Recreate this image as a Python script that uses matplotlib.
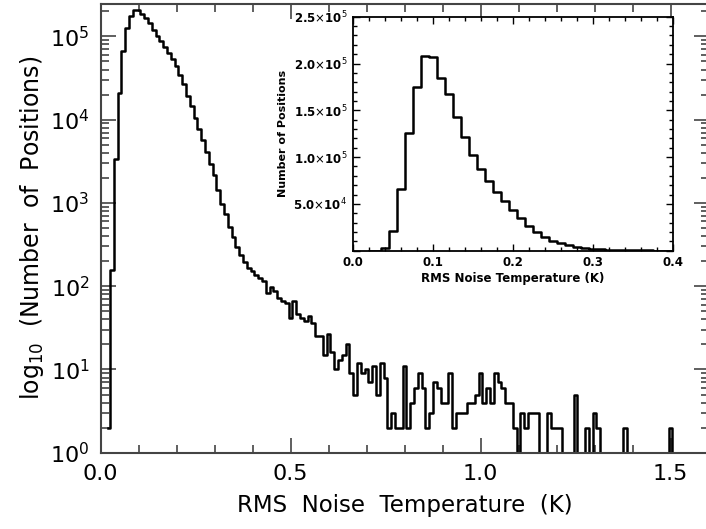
import numpy as np
import matplotlib.pyplot as plt
from matplotlib.ticker import MultipleLocator, LogLocator, NullFormatter, FuncFormatter

# histogram of RMS noise, 0.01 K bins, first bin centred on 0.02 K
bin_width = 0.01
first_bin = 0.02
counts = [
    2, 155, 3400, 21000, 66000, 126000, 175000, 208000, 207000, 184000,
    167000, 143000, 121000, 102000, 87000, 74500, 63000, 53000, 43600, 34400,
    26600, 19500, 14500, 10600, 7800, 5700, 4100, 2900, 2150, 1420,
    980, 745, 515, 390, 295, 235, 195, 166, 151, 138,
    126, 115, 83, 98, 87, 72, 66, 63, 42, 66,
    46, 42, 38, 44, 36, 25, 25, 15, 27, 16,
    10, 13, 15, 20, 9, 5, 12, 9, 10, 7,
    11, 5, 12, 8, 2, 3, 2, 2, 11, 2,
    4, 6, 9, 6, 2, 3, 7, 6, 4, 4,
    9, 2, 3, 3, 3, 4, 4, 5, 9, 4,
    6, 4, 9, 7, 6, 4, 4, 2, 0, 3,
    2, 3, 3, 3, 0, 0, 3, 2, 2, 2,
    0, 0, 0, 5, 0, 0, 2, 0, 3, 2,
    0, 0, 0, 0, 0, 0, 2, 0, 0, 0,
    0, 0, 0, 0, 0, 0, 0, 0, 2, 0,
    0, 0, 0, 0, 0, 0, 0, 0,
]
centers = first_bin + bin_width * np.arange(len(counts))

main_xlabel = "RMS  Noise  Temperature  (K)"
main_ylabel = r"log$_{10}$  (Number  of  Positions)"
inset_xlabel = "RMS Noise Temperature (K)"
inset_ylabel = "Number of Positions"

fig = plt.figure(figsize=(7.06, 5.29), dpi=100)
frame = "#444444"

# main log plot
ax = fig.add_axes([0.1424, 0.1442, 0.8612, 0.8482])
ax.step(centers, counts, where="mid", color="black", lw=1.8)
ax.set_yscale("log")
ax.set_xlim(0, 1.6)
ax.set_ylim(1, 2.45e5)
ax.xaxis.set_major_locator(MultipleLocator(0.5))
ax.xaxis.set_minor_locator(MultipleLocator(0.1))
ax.xaxis.set_major_formatter(FuncFormatter(lambda v, p: "%.1f" % v))
ax.yaxis.set_major_locator(LogLocator(base=10))
ax.yaxis.set_minor_locator(LogLocator(base=10, subs=np.arange(2, 10)))
ax.yaxis.set_minor_formatter(NullFormatter())
ax.tick_params(which="both", direction="in", top=True, right=True,
               color=frame, width=1.2, labelsize=16, pad=8)
ax.tick_params(which="major", length=11)
ax.tick_params(which="minor", length=6)
for s in ax.spines.values():
    s.set_color(frame)
    s.set_linewidth(1.5)
ax.set_xlabel(main_xlabel, fontsize=16.5, labelpad=7)
ax.set_ylabel(main_ylabel, fontsize=17, labelpad=3)

# inset linear plot
ins = fig.add_axes([0.4996, 0.5261, 0.4541, 0.4423])
ins.step(centers, counts, where="mid", color="black", lw=1.8)
ins.set_xlim(0, 0.4)
ins.set_ylim(0, 2.5e5)
ins.xaxis.set_major_locator(MultipleLocator(0.1))
ins.xaxis.set_minor_locator(MultipleLocator(0.02))
ins.xaxis.set_major_formatter(FuncFormatter(lambda v, p: "%.1f" % v))
ins.yaxis.set_major_locator(MultipleLocator(5e4))
ins.yaxis.set_minor_locator(MultipleLocator(1e4))


def sci(v, p):
    if v <= 0:
        return ""
    e = int(np.floor(np.log10(v)))
    return r"%.1f$\times$10$^{%d}$" % (v / 10 ** e, e)


ins.yaxis.set_major_formatter(FuncFormatter(sci))
ins.tick_params(which="both", direction="in", top=True, right=True,
                width=1.0, labelsize=8.5, pad=4)
ins.tick_params(which="major", length=5)
ins.tick_params(which="minor", length=3)
for lab in ins.get_xticklabels() + ins.get_yticklabels():
    lab.set_fontweight("bold")
for s in ins.spines.values():
    s.set_linewidth(1.3)
ins.set_xlabel(inset_xlabel, fontsize=8.5, fontweight="bold", labelpad=2)
ins.set_ylabel(inset_ylabel, fontsize=8, fontweight="bold", labelpad=4)

fig.savefig("out.png", dpi=100)
